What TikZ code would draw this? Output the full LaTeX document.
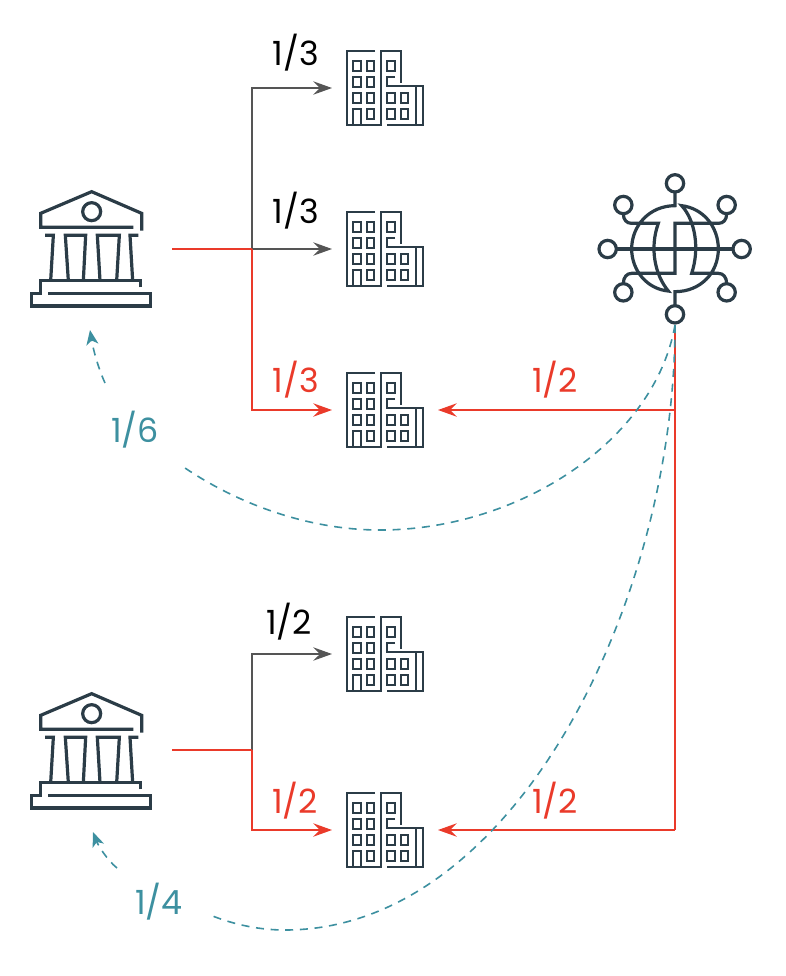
\documentclass[tikz,border=0pt]{standalone}
\usepackage{fontspec}
\setmainfont{Poppins}
\usetikzlibrary{arrows.meta}
\definecolor{iconnavy}{HTML}{2B3C47}
\definecolor{linered}{HTML}{EA3A2A}
\definecolor{linegrey}{HTML}{555555}
\definecolor{lineteal}{HTML}{3D90A0}
\tikzset{
    bank/.pic = {
        \begin{scope}[scale=1/3, shift={(-216,-207)}]
            \draw (340,142) -- (62,142) -- (62,100) -- (215,35) -- (365,100) -- (365,152);
            \draw (215,95) circle[radius=27];
            \draw (75,166) -- (100,166) -- (92,302);
            \draw (145,302) -- (136,166) -- (197,166) -- (190,302);
            \draw (240,302) -- (232,166) -- (298,166) -- (290,302);
            \draw (355,166) -- (330,166) -- (338,302);
            \draw (362,322) -- (362,302) -- (62,302) -- (62,340) -- (35,340) -- (35,378) -- (392,378) -- (392,340) -- (85,340);
        \end{scope}
    },
    building/.pic = {
        \begin{scope}[scale=1/3, shift={(-150,-141)}]
            \draw (120,30) -- (35,30) -- (35,252) -- (138,252) -- (138,30) -- (198,30) -- (198,125);
            \draw (180,108) -- (157,108) -- (157,135) -- (265,135) -- (265,252) -- (155,252);
            \draw (243,135) -- (243,252);
            \draw (55,252) -- (55,205) -- (77,205) -- (77,252);
            \foreach \wx/\wy in {55/60,95/60,157/60,55/108,95/108,55/157,95/157,157/157,197/157,95/205,157/205,197/205}
                \draw (\wx,\wy) rectangle ++(22,30);
        \end{scope}
    },
    globe/.pic = {
        \begin{scope}[scale=1/3, shift={(-255,-252)}]
            \foreach \cx/\cy in {255/55,255/448,53/252,455/252,100/120,410/120,100/382,410/382}
                \draw (\cx,\cy) circle[radius=26];
            \draw (80,252) -- (430,252);
            \draw (255,81) -- (255,122) .. controls (180,122) and (125,180) .. (125,252) .. controls (125,315) and (170,372) .. (235,378)
                .. controls (195,330) and (178,250) .. (205,175) -- (125,175) .. controls (110,175) and (100,165) .. (100,146);
            \draw (100,356) .. controls (100,337) and (110,325) .. (125,325) -- (255,325) -- (255,175) -- (385,175) .. controls (400,175) and (410,165) .. (410,146);
            \draw (255,422) -- (255,380) .. controls (330,380) and (385,325) .. (385,252) .. controls (385,185) and (340,130) .. (275,122)
                .. controls (315,165) and (330,250) .. (305,325) -- (385,325) .. controls (400,325) and (410,337) .. (410,356);
        \end{scope}
    }
}
\begin{document}
\begin{tikzpicture}[
                x=0.75pt,
                y=-0.75pt,
                bankbox/.style = {minimum width = 120pt, minimum height = 90pt, inner sep = 0pt, outer sep = 0pt},
                buildingbox/.style = {minimum width = 79.5pt, minimum height = 60pt, inner sep = 0pt, outer sep = 0pt},
                globebox/.style = {minimum width = 114pt, minimum height = 114pt, inner sep = 0pt, outer sep = 0pt},
                bankicon/.style = {draw=iconnavy, line width = 2.4pt},
                buildingicon/.style = {draw=iconnavy, line width = 1.6pt},
                globeicon/.style = {draw=iconnavy, line width = 2.4pt},
                greyline/.style = {draw=linegrey, line width = 1.1pt, -{Stealth[length=14pt, width=10pt, inset=5pt]}},
                redline/.style = {draw=linered, line width = 1.5pt, -{Stealth[length=14pt, width=10pt, inset=5pt]}},
                redplain/.style = {draw=linered, line width = 1.5pt},
                tealline/.style = {draw=lineteal, line width = 1.2pt, dash pattern = on 6pt off 5pt},
                tealarrow/.style = {tealline, -{Stealth[length=11pt, width=9pt, inset=3pt]}},
                share/.style = {font=\fontsize{25}{25}\selectfont, inner sep = 0pt},
            ]
            \useasboundingbox (0,0) rectangle (786,976);
            % 
            \node[bankbox] (bankA) at (92,249) {};
            \node[bankbox] (bankB) at (92,750) {};
            \node[buildingbox] (buildingA) at (385,88) {};
            \node[buildingbox] (buildingB) at (385,249) {};
            \node[buildingbox] (buildingC) at (385,410) {};
            \node[buildingbox] (buildingD) at (385,654) {};
            \node[buildingbox] (buildingE) at (385,830) {};
            \node[globebox] (globeA) at (675,249) {};
            % 
            \pic[bankicon] at (bankA) {bank};
            \pic[bankicon] at (92,751) {bank};
            \pic[buildingicon] at (buildingA) {building};
            \pic[buildingicon] at (buildingB) {building};
            \pic[buildingicon] at (buildingC) {building};
            \pic[buildingicon] at (buildingD) {building};
            \pic[buildingicon] at (buildingE) {building};
            \pic[globeicon] at (globeA) {globe};
            % 
            \coordinate (splitA) at (252,249);
            \coordinate (splitB) at (252,750);
            \coordinate (globeC) at (675,410);
            \coordinate (globeE) at (675,830);
            \coordinate (lowA) at (380,530);
            \coordinate (endA) at (185,468);
            \coordinate (lowB) at (285,930);
            \coordinate (endB) at (210,915);
            \coordinate (tailA) at (105,383);
            \coordinate (tipA) at (90,330);
            \coordinate (tailB) at (117,868);
            \coordinate (tipB) at (93,832);
            % 
            \draw[greyline] (splitA) |- (buildingA.west);
            \draw[greyline] (splitA) -- (buildingB.west);
            \draw[greyline] (splitB) |- (buildingD.west);
            % 
            \draw[redplain] (bankA.east) -- (splitA);
            \draw[redline] (splitA) |- (buildingC.west);
            \draw[redplain] (bankB.east) -- (splitB);
            \draw[redline] (splitB) |- (buildingE.west);
            \draw[redplain] (globeA.south) -- (globeE);
            \draw[redline] (globeC) -- (buildingC.east);
            \draw[redline] (globeE) -- (buildingE.east);
            % 
            \draw[tealline] (globeA.south) .. controls (655,440) and (520,530) .. (lowA) .. controls (310,530) and (240,505) .. (endA);
            \draw[tealline] (globeA.south) .. controls (675,600) and (515,930) .. (lowB) .. controls (260,930) and (235,925) .. (endB);
            \draw[tealarrow] (tailA) .. controls (97,365) and (93,348) .. (tipA);
            \draw[tealarrow] (tailB) .. controls (107,860) and (98,845) .. (tipB);
            % 
            \node[share] (labelA) at (296,53) {1/3};
            \node[share] (labelB) at (296,211) {1/3};
            \node[share, text=linered] (labelC) at (296,380) {1/3};
            \node[share, text=linered] (labelD) at (555,380) {1/2};
            \node[share, text=lineteal] (labelE) at (135,430) {1/6};
            \node[share] (labelF) at (289,622) {1/2};
            \node[share, text=linered] (labelG) at (295,801) {1/2};
            \node[share, text=linered] (labelH) at (555,801) {1/2};
            \node[share, text=lineteal] (labelI) at (159,902) {1/4};
            % 
        \end{tikzpicture}
\end{document}
